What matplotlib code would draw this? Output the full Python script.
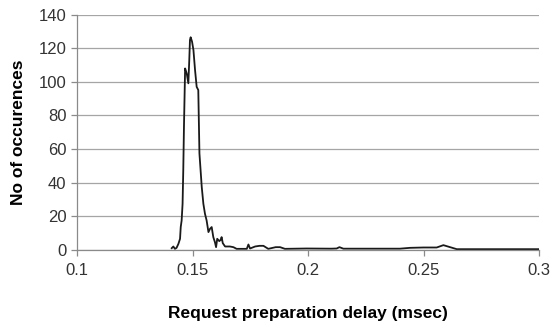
import matplotlib.pyplot as plt

plt.rcParams['font.family'] = ['Liberation Sans', 'DejaVu Sans']

# request preparation delay (msec) and number of occurrences
delay = [0.1410, 0.1417, 0.1424, 0.1431, 0.1439, 0.1446, 0.1449, 0.1453, 0.1457,
         0.1460, 0.1463, 0.1468, 0.1475, 0.1482, 0.1486, 0.1489, 0.1492, 0.1498,
         0.1504, 0.1511, 0.1518, 0.1525, 0.1530, 0.1535, 0.1540, 0.1547, 0.1554,
         0.1561, 0.1569, 0.1576, 0.1583, 0.1590, 0.1597, 0.1602, 0.1607, 0.1616,
         0.1622, 0.1626, 0.1631, 0.1641, 0.1662, 0.1677, 0.1691, 0.1735, 0.1742,
         0.1749, 0.1771, 0.1790, 0.1807, 0.1828, 0.1860, 0.1879, 0.1900, 0.1994,
         0.2100, 0.2124, 0.2136, 0.2153, 0.2300, 0.2398, 0.2442, 0.2500, 0.2557,
         0.2586, 0.2615, 0.2644, 0.2800, 0.3000]
count = [0.8, 1.8, 0.4, 1.0, 3.4, 6.4, 13.4, 17.4, 27.3,
         47.3, 73.2, 108.1, 105.1, 99.2, 113.1, 125.1, 126.7, 124.1,
         119.1, 107.1, 97.1, 95.2, 57.3, 47.3, 37.3, 27.3, 21.3,
         17.4, 10.4, 12.4, 13.4, 7.4, 4.4, 1.4, 6.4, 5.0,
         5.8, 7.4, 3.8, 1.8, 1.8, 1.4, 0.4, 0.4, 3.0,
         0.6, 1.8, 2.2, 2.2, 0.4, 1.4, 1.4, 0.4, 0.6,
         0.5, 0.6, 1.4, 0.5, 0.5, 0.5, 1.0, 1.2, 1.2,
         2.6, 1.4, 0.2, 0.2, 0.2]

xticks = [0.1, 0.15, 0.2, 0.25, 0.3]
xtick_labels = ['0.1', '0.15', '0.2', '0.25', '0.3']
yticks = [0, 20, 40, 60, 80, 100, 120, 140]

fig = plt.figure(figsize=(5.52, 3.28), dpi=100)
ax = fig.add_axes([0.1395, 0.2393, 0.837, 0.715])

ax.plot(delay, count, color='#1a1a1a', linewidth=1.3)

ax.set_xlim(0.1, 0.3)
ax.set_ylim(0, 140)
ax.set_xticks(xticks)
ax.set_xticklabels(xtick_labels)
ax.set_yticks(yticks)
ax.yaxis.grid(True, color='#a5a5a5', linewidth=0.9)
ax.set_axisbelow(True)

for side in ['top', 'right']:
    ax.spines[side].set_visible(False)
for side in ['left', 'bottom']:
    ax.spines[side].set_color('#8a8a8a')
    ax.spines[side].set_linewidth(0.9)
ax.tick_params(axis='both', colors='#8a8a8a', labelcolor='#333333',
               labelsize=12, length=4, width=0.9)
ax.tick_params(axis='x', pad=6)

ax.set_xlabel('Request preparation delay (msec)', fontsize=12.5,
              fontweight='bold', labelpad=20)
ax.set_ylabel('No of occurences', fontsize=12.5, fontweight='bold', labelpad=9)

fig.savefig('out.png', dpi=100)
